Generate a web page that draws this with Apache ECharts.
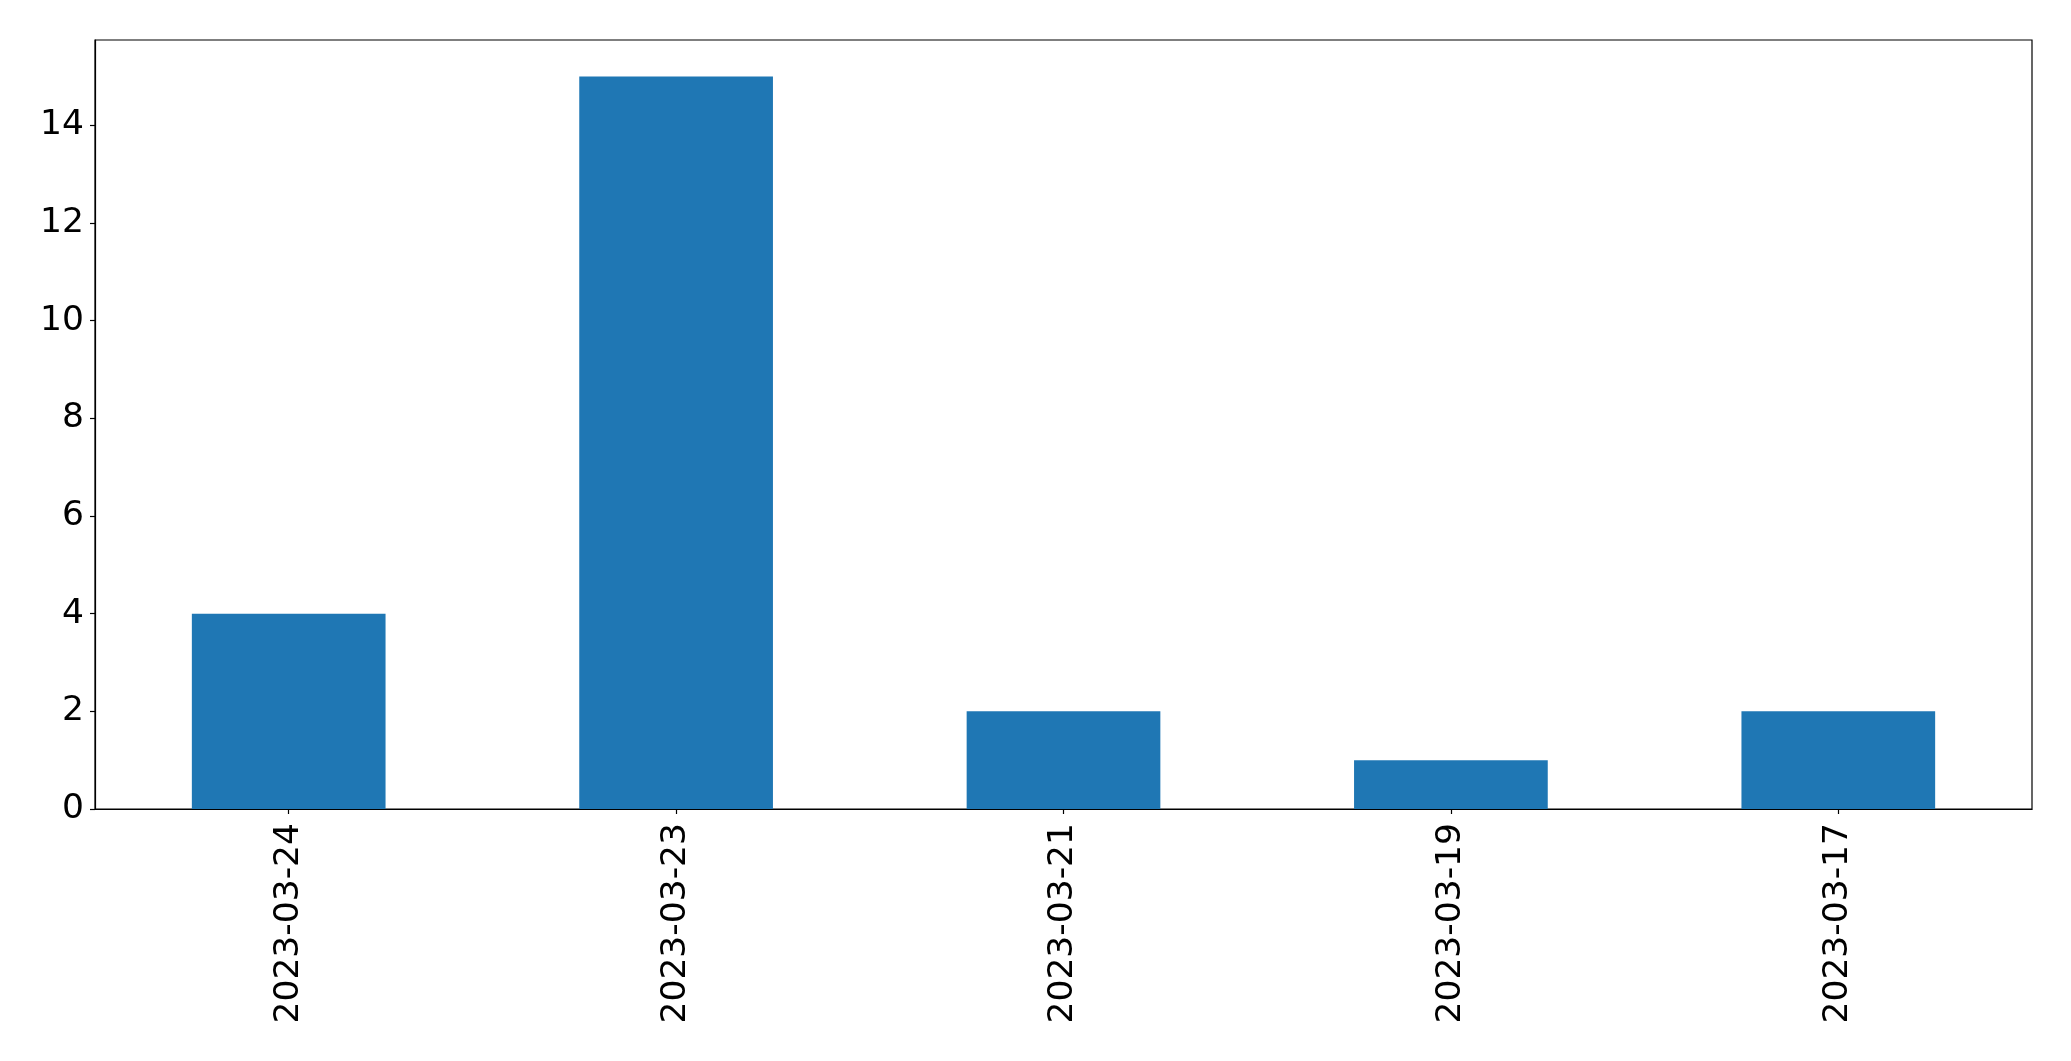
<!DOCTYPE html>
<html>
<head>
<meta charset="utf-8">
<script src="https://cdn.jsdelivr.net/npm/echarts@6/dist/echarts.min.js"></script>
<style>
html,body{margin:0;padding:0;background:#fff;}
#chart{width:2071px;height:1061px;}
</style>
</head>
<body>
<div id="chart"></div>
<script>
const categories = ['2023-03-24', '2023-03-23', '2023-03-21', '2023-03-19', '2023-03-17'];
const values = [4, 15, 2, 1, 2];
const yTicks = [0, 2, 4, 6, 8, 10, 12, 14];

const chart = echarts.init(document.getElementById('chart'), null, {renderer: 'canvas'});
const font = 'DejaVu Sans';
chart.setOption({
  animation: false,
  backgroundColor: '#ffffff',
  grid: {
    left: 95, right: 39, top: 40, bottom: 252,
    show: true, borderColor: '#000000', borderWidth: 1.2, backgroundColor: 'transparent'
  },
  xAxis: {
    type: 'category',
    data: categories,
    boundaryGap: true,
    axisLine: {show: true, lineStyle: {color: '#000', width: 1.2}},
    axisTick: {show: true, alignWithLabel: true, length: 5, lineStyle: {color: '#000', width: 1.2}},
    axisLabel: {
      rotate: 90, margin: 14, color: '#000',
      fontFamily: font, fontSize: 34.5, interval: 0
    },
    splitLine: {show: false}
  },
  yAxis: {
    type: 'value',
    min: 0, max: 15.75, interval: 2,
    axisLine: {show: true, lineStyle: {color: '#000', width: 1.2}},
    axisTick: {show: true, length: 5, lineStyle: {color: '#000', width: 1.2}},
    axisLabel: {
      color: '#000', fontFamily: font, fontSize: 34.5, margin: 11,
      padding: [4, 0, 0, 0],
      showMaxLabel: false,
      formatter: function (v) { return yTicks.indexOf(v) >= 0 ? String(v) : ''; }
    },
    splitLine: {show: false}
  },
  series: [{
    type: 'bar',
    data: values,
    barWidth: '50%',
    itemStyle: {color: '#1f77b4'}
  }]
});
</script>
</body>
</html>
